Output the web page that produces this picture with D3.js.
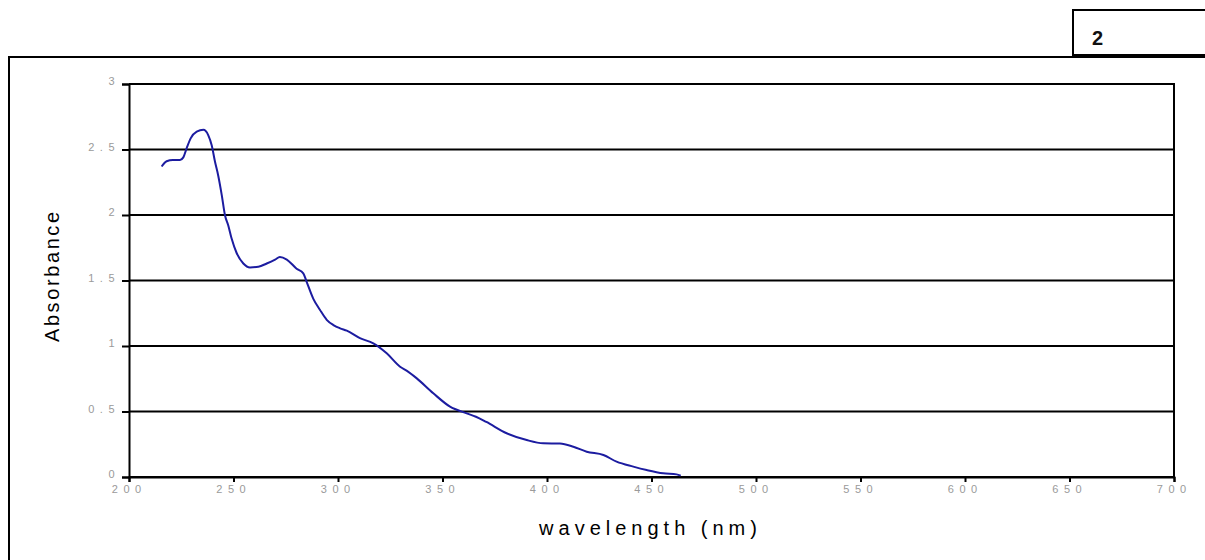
<!DOCTYPE html>
<html>
<head>
<meta charset="utf-8">
<script src="https://cdn.jsdelivr.net/npm/d3@7"></script>
<style>
  html, body { margin: 0; padding: 0; background: #fff; }
  svg { display: block; }
</style>
</head>
<body>
<svg id="chart" width="1205" height="560"></svg>
<script>
// ---- data ----
const wavelength = [215.6, 218.0, 221.0, 224.4, 226.0, 227.6, 229.5, 232.4, 235.6, 237.9,
  239.6, 241.1, 242.7, 244.4, 245.9, 247.5, 249.1, 251.5, 254.7, 257.9,
  261.9, 265.9, 269.9, 272.2, 275.5, 280.2, 283.4, 285.0, 288.2, 291.4,
  294.6, 297.8, 301.0, 304.2, 310.5, 316.9, 323.3, 329.7, 333.0, 337.7,
  345.6, 353.6, 361.6, 366.0, 371.0, 380.7, 390.3, 398.2, 406.2, 412.6,
  419.0, 427.0, 433.3, 441.3, 447.7, 455.6, 462.0, 464.0];
const absorbance = [2.37, 2.41, 2.42, 2.42, 2.44, 2.51, 2.585, 2.636, 2.65, 2.61,
  2.53, 2.41, 2.30, 2.15, 2.00, 1.92, 1.82, 1.71, 1.63, 1.60,
  1.605, 1.63, 1.66, 1.68, 1.66, 1.59, 1.555, 1.49, 1.36, 1.275,
  1.20, 1.16, 1.135, 1.117, 1.06, 1.02, 0.944, 0.842, 0.81, 0.753,
  0.639, 0.537, 0.486, 0.46, 0.42, 0.334, 0.282, 0.257, 0.255, 0.231,
  0.193, 0.168, 0.117, 0.079, 0.053, 0.028, 0.02, 0.01];
const xTicks = [200, 250, 300, 350, 400, 450, 500, 550, 600, 650, 700];
const xTickLabels = ["200", "250", "300", "350", "400", "450", "500", "550", "600", "650", "700"];
const yTicks = [0, 0.5, 1, 1.5, 2, 2.5, 3];
const yTickLabels = ["0", "0.5", "1", "1.5", "2", "2.5", "3"];
const xTitle = "wavelength (nm)";
const yTitle = "Absorbance";
const boxLabel = "2";

const svg = d3.select("#chart");
const FONT = "'Liberation Sans', Arial, sans-serif";

// outer frame and label box
svg.append("line").attr("x1", 9).attr("x2", 1205).attr("y1", 57).attr("y2", 57)
  .attr("stroke", "#000").attr("stroke-width", 2);
svg.append("line").attr("x1", 9).attr("x2", 9).attr("y1", 56).attr("y2", 560)
  .attr("stroke", "#000").attr("stroke-width", 2);
svg.append("rect").attr("x", 1073).attr("y", 10).attr("width", 140).attr("height", 45)
  .attr("fill", "#fff").attr("stroke", "#000").attr("stroke-width", 2);
svg.append("line").attr("x1", 1072).attr("x2", 1205).attr("y1", 55.5).attr("y2", 55.5)
  .attr("stroke", "#000").attr("stroke-width", 3);
svg.append("text").attr("x", 1092).attr("y", 45).text(boxLabel)
  .attr("font-family", FONT).attr("font-size", 20).attr("font-weight", "bold").attr("fill", "#111");

// plot area
const L = 129, R = 1174, T = 84, B = 477;
const x = d3.scaleLinear().domain([200, 700]).range([L, R]);
const y = d3.scaleLinear().domain([0, 3]).range([B, T]);

// gridlines (horizontal)
svg.append("g").selectAll("line").data(yTicks).join("line")
  .attr("x1", L).attr("x2", R)
  .attr("y1", d => y(d)).attr("y2", d => y(d))
  .attr("stroke", "#000").attr("stroke-width", 2);

// right border
svg.append("line").attr("x1", R).attr("x2", R).attr("y1", T - 1).attr("y2", B + 1)
  .attr("stroke", "#000").attr("stroke-width", 2);

// x axis
const LS = 5.5;
const gx = svg.append("g").attr("transform", `translate(0,${B})`)
  .call(d3.axisBottom(x).tickValues(xTicks).tickSize(5).tickPadding(3)
    .tickFormat((d, i) => xTickLabels[i]));
gx.select(".domain").attr("stroke", "#000").attr("stroke-width", 2);
gx.selectAll(".tick line").attr("stroke", "#000").attr("stroke-width", 2);
gx.selectAll(".tick text").attr("font-family", FONT).attr("font-size", 11)
  .attr("fill", "#9a9a9a").style("letter-spacing", LS + "px")
  .attr("dx", (LS / 2 - 3));

// y axis
const gy = svg.append("g").attr("transform", `translate(${L},0)`)
  .call(d3.axisLeft(y).tickValues(yTicks).tickSize(7).tickPadding(13 - LS)
    .tickFormat((d, i) => yTickLabels[i]));
gy.select(".domain").attr("stroke", "#000").attr("stroke-width", 2);
gy.selectAll(".tick line").attr("stroke", "#000").attr("stroke-width", 2);
gy.selectAll(".tick text").attr("font-family", FONT).attr("font-size", 11)
  .attr("fill", "#9a9a9a").style("letter-spacing", LS + "px")
  .attr("dx", LS).attr("y", -3);

// curve
const pts = wavelength.map((w, i) => [w, absorbance[i]]);
svg.append("path").datum(pts)
  .attr("fill", "none").attr("stroke", "#1c1ca0").attr("stroke-width", 2)
  .attr("stroke-linejoin", "round")
  .attr("d", d3.line().x(d => x(d[0])).y(d => y(d[1])).curve(d3.curveMonotoneX));

// titles
svg.append("text").attr("x", 648 + 2.5).attr("y", 535).attr("text-anchor", "middle")
  .attr("font-family", FONT).attr("font-size", 20).style("letter-spacing", "5px")
  .attr("fill", "#000").text(xTitle);
svg.append("text").attr("transform", "translate(59,277) rotate(-90)")
  .attr("text-anchor", "middle").attr("dx", 1.3)
  .attr("font-family", FONT).attr("font-size", 20).style("letter-spacing", "2.6px")
  .attr("fill", "#000").text(yTitle);
</script>
</body>
</html>
